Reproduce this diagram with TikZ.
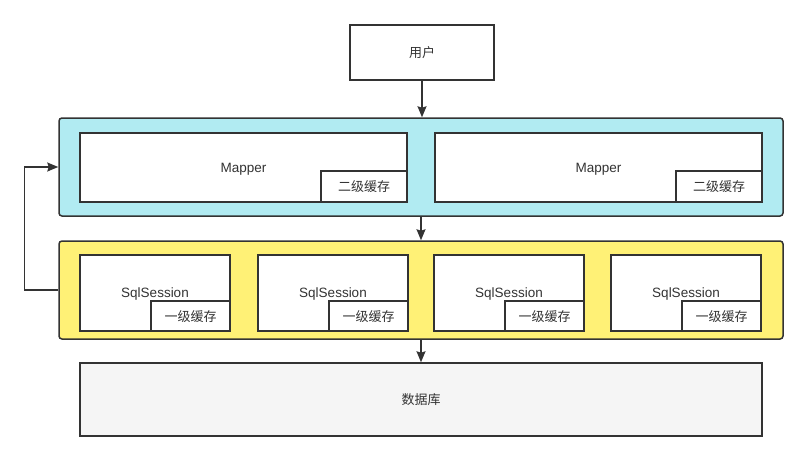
\documentclass[tikz,border=0pt]{standalone}
\usepackage{fontspec}
\setmainfont{Liberation Sans}
\newfontfamily\cjk{Noto Sans CJK SC}
\usetikzlibrary{arrows.meta,positioning}
\definecolor{mappercyan}{HTML}{B1EBF2}
\definecolor{sessionyellow}{HTML}{FFF176}
\definecolor{dbgray}{HTML}{F5F5F5}
\definecolor{linegray}{HTML}{333333}

\begin{document}
\begin{tikzpicture}[x=1pt,y=-1pt,>={Stealth[length=11pt,width=9pt,inset=1.5pt]},
  box/.style={draw=linegray,line width=1.5pt,fill=white,inner sep=0pt,text depth=0pt,text=linegray,font=\fontsize{13.5}{15}\selectfont},
  layer/.style={box,rounded corners=3pt,minimum width=724pt,minimum height=98pt},
  cachebox/.style={box,anchor=south east,font=\cjk\fontsize{13}{15}\selectfont},
  link/.style={draw=linegray,line width=1.5pt}]
  \useasboundingbox (0,0) rectangle (808,460);
  \node[box,minimum width=144pt,minimum height=55pt,font=\cjk\fontsize{13}{15}\selectfont] (user) at (422,52.5) {用户};
  \node[layer,fill=mappercyan] (mappers) at (421,167) {};
  \node[layer,fill=sessionyellow] (sessions) at (421,290) {};
  \node[box,fill=dbgray,minimum width=682pt,minimum height=73pt,font=\cjk\fontsize{13}{15}\selectfont] (db) at (421,399.5) {数据库};
  % mappers with second level cache
  \foreach \i/\x in {1/243.5,2/598.5}{
    \node[box,minimum width=327pt,minimum height=69pt] (mapper\i) at (\x,167.5) {Mapper};
    \node[cachebox,minimum width=86pt,minimum height=31pt] (l2cache\i) at (mapper\i.south east) {二级缓存};
  }
  % sessions with first level cache
  \foreach \i/\x in {1/155,2/333,3/509,4/686}{
    \node[box,minimum width=150pt,minimum height=76pt] (session\i) at (\x,293) {SqlSession};
    \node[cachebox,minimum width=79pt,minimum height=30pt] (l1cache\i) at (session\i.south east) {一级缓存};
  }
  \draw[link,->] (user.south) -- (user.south |- mappers.north);
  \draw[link,->] (mappers.south) -- (sessions.north);
  \draw[link,->] (sessions.south) -- (db.north);
  \draw[link,->] (sessions.west) -- ++(-34,0) |- (mappers.west);
\end{tikzpicture}
\end{document}
